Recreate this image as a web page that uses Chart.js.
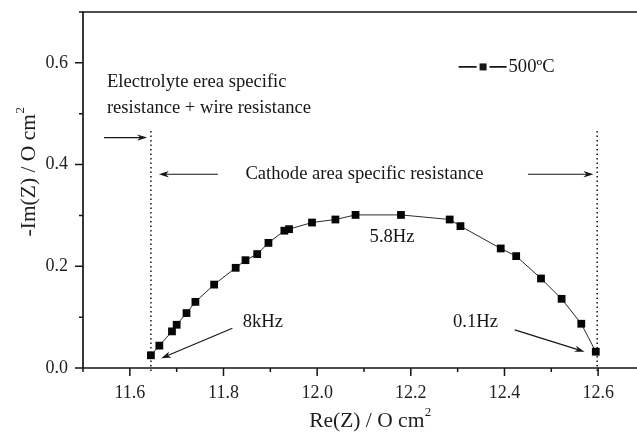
<!DOCTYPE html>
<html>
<head>
<meta charset="utf-8">
<script src="https://cdn.jsdelivr.net/npm/chart.js@4.4.0/dist/chart.umd.min.js"></script>
<style>
  html, body { margin: 0; padding: 0; background: #fff; }
  canvas { display: block; }
</style>
</head>
<body>
<canvas id="nyquist" width="637" height="433"></canvas>
<script>
// impedance spectrum at 500ºC
const reZ = [11.645, 11.663, 11.690, 11.700, 11.721, 11.740, 11.780, 11.826, 11.847, 11.872,
             11.896, 11.930, 11.940, 11.989, 12.039, 12.082, 12.179, 12.283, 12.306, 12.392,
             12.425, 12.478, 12.522, 12.564, 12.595];
const imZ = [0.025, 0.044, 0.072, 0.085, 0.108, 0.130, 0.164, 0.197, 0.212, 0.224,
             0.246, 0.270, 0.273, 0.286, 0.292, 0.301, 0.301, 0.292, 0.279, 0.235,
             0.220, 0.176, 0.136, 0.087, 0.032];
const seriesName = '500ºC';

// axis ticks
const xMajor = [11.6, 11.8, 12.0, 12.2, 12.4, 12.6];
const xMinor = [11.5, 11.7, 11.9, 12.1, 12.3, 12.5];
const yMajor = [0, 0.2, 0.4, 0.6];
const yMinor = [0.1, 0.3, 0.5, 0.7];

const xTitle = ['Re(Z) / O cm', '2'];
const yTitle = ['-Im(Z) / O cm', '2'];

// annotations, in data units
const notes = [
  { text: 'Electrolyte erea specific', x: 11.551, y: 0.562, align: 'left' },
  { text: 'resistance + wire resistance', x: 11.551, y: 0.511, align: 'left' },
  { text: 'Cathode area specific resistance', x: 12.101, y: 0.381, align: 'center' },
  { text: '5.8Hz', x: 12.160, y: 0.258, align: 'center' },
  { text: '8kHz', x: 11.884, y: 0.091, align: 'center' },
  { text: '0.1Hz', x: 12.338, y: 0.091, align: 'center' }
];
const arrows = [
  [11.545, 0.453, 11.637, 0.453],
  [11.788, 0.381, 11.662, 0.381],
  [12.450, 0.381, 12.590, 0.381],
  [11.819, 0.078, 11.667, 0.019],
  [12.422, 0.075, 12.571, 0.032]
];
const guides = [11.645, 12.598];
const guideTop = 0.472;
const legendAt = { x: 12.302, y: 0.592 };

const ink = '#161616';
const serif = '"Liberation Serif", "Times New Roman", serif';

Chart.defaults.font.family = serif;
Chart.defaults.font.size = 18;
Chart.defaults.color = '#222';

function drawArrow(ctx, x1, y1, x2, y2) {
  const a = Math.atan2(y2 - y1, x2 - x1);
  const len = 10, half = 3.2;
  const c = Math.cos(a), s = Math.sin(a);
  ctx.beginPath();
  ctx.moveTo(x1, y1);
  ctx.lineTo(x2 - c * len * 0.7, y2 - s * len * 0.7);
  ctx.stroke();
  ctx.beginPath();
  ctx.moveTo(x2, y2);
  ctx.lineTo(x2 - c * len + s * half, y2 - s * len - c * half);
  ctx.lineTo(x2 - c * len * 0.7, y2 - s * len * 0.7);
  ctx.lineTo(x2 - c * len - s * half, y2 - s * len + c * half);
  ctx.closePath();
  ctx.fill();
}

// text with a raised small "2"
function supText(ctx, parts, x, y, size) {
  ctx.font = size + 'px ' + serif;
  const w1 = ctx.measureText(parts[0]).width;
  ctx.font = Math.round(size * 0.62) + 'px ' + serif;
  const w2 = ctx.measureText(parts[1]).width;
  const x0 = x - (w1 + w2) / 2;
  ctx.textAlign = 'left';
  ctx.textBaseline = 'alphabetic';
  ctx.font = size + 'px ' + serif;
  ctx.fillText(parts[0], x0, y);
  ctx.font = Math.round(size * 0.62) + 'px ' + serif;
  ctx.fillText(parts[1], x0 + w1 + 0.5, y - size * 0.5);
}

const figure = {
  id: 'figure',
  beforeDatasetsDraw(chart) {
    const { ctx, scales: { x, y } } = chart;
    ctx.save();
    ctx.strokeStyle = ink;
    ctx.lineWidth = 1.5;
    ctx.setLineDash([1.5, 3]);
    guides.forEach(g => {
      const px = x.getPixelForValue(g);
      ctx.beginPath();
      ctx.moveTo(px, y.getPixelForValue(0) + 3);
      ctx.lineTo(px, y.getPixelForValue(guideTop));
      ctx.stroke();
    });
    ctx.restore();
  },
  afterDraw(chart) {
    const { ctx, chartArea: area, scales: { x, y } } = chart;
    ctx.save();
    ctx.strokeStyle = ink;
    ctx.fillStyle = ink;

    // frame: left, bottom, top
    ctx.lineWidth = 1.7;
    ctx.beginPath();
    ctx.moveTo(area.left, area.top);
    ctx.lineTo(area.left, area.bottom);
    ctx.moveTo(area.left - 1, area.bottom);
    ctx.lineTo(chart.width, area.bottom);
    ctx.moveTo(area.left - 1, area.top);
    ctx.lineTo(chart.width, area.top);
    ctx.stroke();

    // tick marks outside the axes
    ctx.lineWidth = 1.5;
    ctx.beginPath();
    xMajor.concat(xMinor).forEach(v => {
      const px = x.getPixelForValue(v);
      const len = xMajor.includes(v) ? 8 : 4;
      ctx.moveTo(px, area.bottom);
      ctx.lineTo(px, area.bottom + len);
    });
    yMajor.concat(yMinor).forEach(v => {
      const py = y.getPixelForValue(v);
      const len = yMajor.includes(v) ? 8 : 4;
      ctx.moveTo(area.left, py);
      ctx.lineTo(area.left - len, py);
    });
    ctx.stroke();

    // annotations
    ctx.lineWidth = 1.1;
    arrows.forEach(a => drawArrow(ctx,
      x.getPixelForValue(a[0]), y.getPixelForValue(a[1]),
      x.getPixelForValue(a[2]), y.getPixelForValue(a[3])));
    ctx.font = '18.6px ' + serif;
    ctx.textBaseline = 'middle';
    notes.forEach(n => {
      ctx.textAlign = n.align;
      ctx.fillText(n.text, x.getPixelForValue(n.x), y.getPixelForValue(n.y));
    });

    // legend
    const lx = x.getPixelForValue(legendAt.x), ly = y.getPixelForValue(legendAt.y);
    ctx.lineWidth = 1.8;
    ctx.beginPath();
    ctx.moveTo(lx, ly); ctx.lineTo(lx + 18, ly);
    ctx.moveTo(lx + 31, ly); ctx.lineTo(lx + 48, ly);
    ctx.stroke();
    ctx.fillRect(lx + 21, ly - 3.5, 7, 7);
    ctx.textAlign = 'left';
    ctx.fillText(seriesName, lx + 50, ly);

    // axis titles
    ctx.fillStyle = '#1e1e1e';
    supText(ctx, xTitle, 370, 427, 21.5);
    ctx.translate(35, 172);
    ctx.rotate(-Math.PI / 2);
    supText(ctx, yTitle, 0, 0, 21.5);
    ctx.restore();
  }
};

new Chart(document.getElementById('nyquist'), {
  type: 'scatter',
  data: {
    datasets: [{
      label: seriesName,
      data: reZ.map((v, i) => ({ x: v, y: imZ[i] })),
      showLine: true,
      borderColor: '#2a2a2a',
      borderWidth: 1,
      pointStyle: 'rect',
      pointRadius: 5.5,
      pointBorderWidth: 0,
      pointBackgroundColor: '#050505'
    }]
  },
  options: {
    responsive: false,
    animation: false,
    layout: { autoPadding: false, padding: { top: 12, right: 0, left: 0, bottom: 0 } },
    plugins: { legend: { display: false }, tooltip: { enabled: false } },
    scales: {
      x: {
        type: 'linear',
        min: 11.5,
        max: 12.683,
        afterBuildTicks: s => { s.ticks = xMinor.concat(xMajor).sort((a, b) => a - b).map(v => ({ value: v })); },
        afterFit: s => { s.height = 65; s.paddingLeft = 0; s.paddingRight = 0; },
        grid: { display: false, drawTicks: false },
        border: { display: false },
        ticks: {
          padding: 14,
          maxRotation: 0,
          autoSkip: false,
          callback: v => xMajor.some(m => Math.abs(m - v) < 1e-6) ? v.toFixed(1) : ''
        }
      },
      y: {
        min: 0,
        max: 0.7,
        afterBuildTicks: s => { s.ticks = yMinor.concat(yMajor).sort((a, b) => a - b).map(v => ({ value: v })); },
        afterFit: s => { s.width = 83; s.paddingTop = 0; s.paddingBottom = 0; },
        grid: { display: false, drawTicks: false },
        border: { display: false },
        ticks: {
          padding: 15,
          autoSkip: false,
          callback: v => yMajor.some(m => Math.abs(m - v) < 1e-6) ? v.toFixed(1) : ''
        }
      }
    }
  },
  plugins: [figure]
});
</script>
</body>
</html>
